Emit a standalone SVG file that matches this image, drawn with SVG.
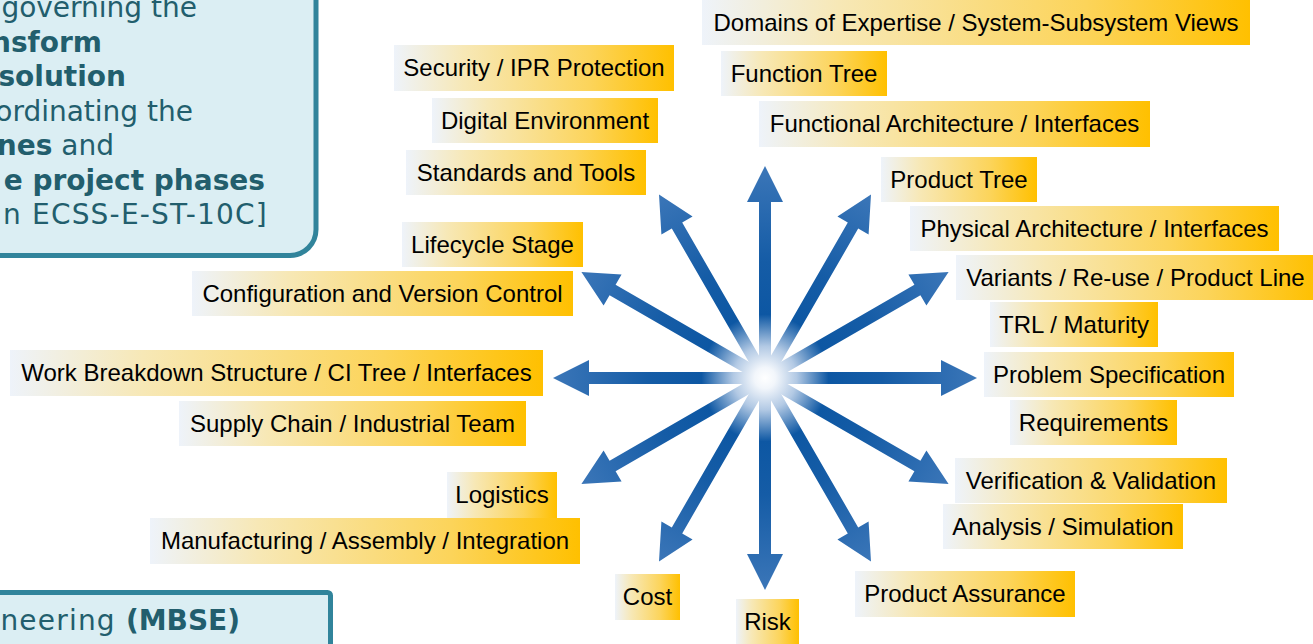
<svg xmlns="http://www.w3.org/2000/svg" width="1313" height="644" viewBox="0 0 1313 644">
<defs>
<linearGradient id="lbl" x1="0" y1="0" x2="1" y2="0">
<stop offset="0" stop-color="#eef3fa"/>
<stop offset="0.25" stop-color="#f7e8b6"/>
<stop offset="0.7" stop-color="#fcd45a"/>
<stop offset="1" stop-color="#ffc000"/>
</linearGradient>
<radialGradient id="star" gradientUnits="userSpaceOnUse" cx="0" cy="0" r="212">
<stop offset="0" stop-color="#ffffff"/>
<stop offset="0.05" stop-color="#f2f6fb"/>
<stop offset="0.15" stop-color="#b2c9e4"/>
<stop offset="0.3" stop-color="#0d57a3"/>
<stop offset="0.55" stop-color="#155ca6"/>
<stop offset="1" stop-color="#3b76b8"/>
</radialGradient>
<path id="arr" d="M0,-6 L176,-6 L176,-18 L212,0 L176,18 L176,6 L0,6 Z"/>
</defs>
<style>
.lb{fill:url(#lbl)}
.lt{font-family:"Liberation Sans",Arial,sans-serif;font-size:24px;fill:#000;text-anchor:middle}
.bx{fill:#dbeef3;stroke:#31849b;stroke-width:5}
.bt{font-family:"DejaVu Sans",Verdana,sans-serif;font-size:28px;fill:#225e6d;text-anchor:end}
.ws{letter-spacing:1.2px}
.b{font-weight:bold;letter-spacing:0}
.ar{fill:url(#star)}
</style>

<g id="info-box-top">
<rect class="bx" x="-40" y="-40" width="356" height="295.5" rx="26"/>
<text class="bt" x="197" y="17">governing the</text>
<text class="bt b" x="102" y="51.5">nsform</text>
<text class="bt b" x="126" y="86">solution</text>
<text class="bt" x="193" y="120.5">ordinating the</text>
<text class="bt" x="114" y="155"><tspan class="b">nes</tspan> and</text>
<text class="bt b" x="265" y="189.5">e project phases</text>
<text class="bt ws" x="268" y="224">n ECSS-E-ST-10C]</text>
</g>

<g id="info-box-bottom">
<rect class="bx" x="-40" y="592.5" width="370.5" height="80" rx="3"/>
<text class="bt ws" x="240" y="630">neering <tspan class="b">(MBSE)</tspan></text>
</g>

<g id="connectors">
<g transform="translate(765,378)">
<use href="#arr" class="ar" transform="rotate(-90)"/>
<use href="#arr" class="ar" transform="rotate(-60)"/>
<use href="#arr" class="ar" transform="rotate(-30)"/>
<use href="#arr" class="ar" transform="rotate(0)"/>
<use href="#arr" class="ar" transform="rotate(30)"/>
<use href="#arr" class="ar" transform="rotate(60)"/>
<use href="#arr" class="ar" transform="rotate(90)"/>
<use href="#arr" class="ar" transform="rotate(120)"/>
<use href="#arr" class="ar" transform="rotate(150)"/>
<use href="#arr" class="ar" transform="rotate(180)"/>
<use href="#arr" class="ar" transform="rotate(210)"/>
<use href="#arr" class="ar" transform="rotate(240)"/>
</g>
</g>

<g id="n-domains"><rect class="lb" x="702" y="0" width="548" height="45"/><text class="lt" x="976" y="31">Domains of Expertise / System-Subsystem Views</text></g>
<g id="n-function-tree"><rect class="lb" x="721" y="51" width="166" height="45"/><text class="lt" x="804" y="82">Function Tree</text></g>
<g id="n-functional-arch"><rect class="lb" x="759" y="101" width="391" height="46"/><text class="lt" x="954.5" y="132">Functional Architecture / Interfaces</text></g>
<g id="n-product-tree"><rect class="lb" x="881" y="157" width="156" height="45"/><text class="lt" x="959" y="188">Product Tree</text></g>
<g id="n-physical-arch"><rect class="lb" x="910" y="206" width="369" height="45"/><text class="lt" x="1094.5" y="237">Physical Architecture / Interfaces</text></g>
<g id="n-variants"><rect class="lb" x="956" y="255" width="359" height="45"/><text class="lt" x="1135.5" y="286">Variants / Re-use / Product Line</text></g>
<g id="n-trl"><rect class="lb" x="990" y="302" width="168" height="45"/><text class="lt" x="1074" y="333">TRL / Maturity</text></g>
<g id="n-problem-spec"><rect class="lb" x="984" y="352" width="250" height="45"/><text class="lt" x="1109" y="383">Problem Specification</text></g>
<g id="n-requirements"><rect class="lb" x="1010" y="400" width="167" height="45"/><text class="lt" x="1093.5" y="431">Requirements</text></g>
<g id="n-vv"><rect class="lb" x="955" y="458" width="272" height="45"/><text class="lt" x="1091" y="489">Verification &amp; Validation</text></g>
<g id="n-analysis"><rect class="lb" x="943" y="504" width="240" height="45"/><text class="lt" x="1063" y="535">Analysis / Simulation</text></g>
<g id="n-product-assurance"><rect class="lb" x="855" y="571" width="220" height="46"/><text class="lt" x="965" y="602">Product Assurance</text></g>
<g id="n-risk"><rect class="lb" x="736" y="599" width="63" height="45"/><text class="lt" x="767.5" y="630">Risk</text></g>
<g id="n-cost"><rect class="lb" x="615" y="574" width="65" height="46"/><text class="lt" x="647.5" y="605">Cost</text></g>
<g id="n-manufacturing"><rect class="lb" x="150" y="518" width="430" height="46"/><text class="lt" x="365" y="549">Manufacturing / Assembly / Integration</text></g>
<g id="n-logistics"><rect class="lb" x="447" y="472" width="110" height="46"/><text class="lt" x="502" y="503">Logistics</text></g>
<g id="n-supply-chain"><rect class="lb" x="179" y="401" width="347" height="45"/><text class="lt" x="352.5" y="432">Supply Chain / Industrial Team</text></g>
<g id="n-wbs"><rect class="lb" x="10" y="350" width="533" height="46"/><text class="lt" x="276.5" y="381">Work Breakdown Structure / CI Tree / Interfaces</text></g>
<g id="n-config"><rect class="lb" x="192" y="271" width="381" height="45"/><text class="lt" x="382.5" y="302">Configuration and Version Control</text></g>
<g id="n-lifecycle"><rect class="lb" x="402" y="222" width="181" height="45"/><text class="lt" x="492.5" y="253">Lifecycle Stage</text></g>
<g id="n-standards"><rect class="lb" x="406" y="150" width="240" height="45"/><text class="lt" x="526" y="181">Standards and Tools</text></g>
<g id="n-digital-env"><rect class="lb" x="432" y="98" width="226" height="45"/><text class="lt" x="545" y="129">Digital Environment</text></g>
<g id="n-security"><rect class="lb" x="394" y="45" width="280" height="46"/><text class="lt" x="534" y="76">Security / IPR Protection</text></g>
</svg>
